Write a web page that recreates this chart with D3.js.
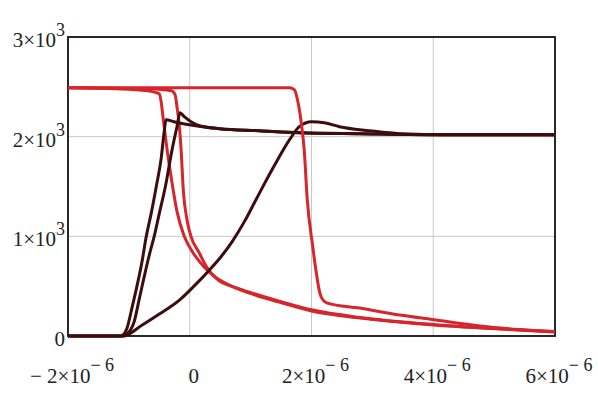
<!DOCTYPE html>
<html>
<head>
<meta charset="utf-8">
<script src="https://cdn.jsdelivr.net/npm/d3@7"></script>
<style>
  body { margin: 0; background: #fff; }
  text { font-family: "Liberation Serif", "Times New Roman", serif; fill: #222; }
</style>
</head>
<body>
<svg id="chart" width="598" height="400"></svg>
<script>
// time axis in microseconds
const redA_t = [-2, -1.2, -0.7, -0.5, -0.47, -0.44, -0.40, -0.37, -0.30, -0.21, -0.09, 0.07, 0.24, 0.40, 0.65, 0.98, 1.47, 2.0, 2.8, 4.0, 5.1, 6.0]
const redA_v = [2490, 2480, 2460, 2430, 2350, 2200, 2000, 1860, 1570, 1250, 1000, 820, 690, 600, 510, 430, 340, 250, 180, 110, 70, 40]

const redB_t = [-2, -0.67, -0.30, -0.24, -0.21, -0.17, -0.14, -0.11, -0.04, 0.02, 0.16, 0.27, 0.45, 0.73, 0.98, 1.47, 2.02, 2.8, 4.0, 5.1, 6.0]
const redB_v = [2490, 2480, 2460, 2420, 2300, 2100, 1850, 1500, 1150, 1000, 830, 700, 570, 490, 440, 350, 260, 185, 115, 72, 42]

const redC_t = [-2, 1.64, 1.72, 1.77, 1.84, 1.88, 1.93, 2.02, 2.08, 2.13, 2.16, 2.26, 2.79, 3.45, 3.99, 4.77, 5.42, 6.0]
const redC_v = [2490, 2490, 2470, 2370, 2100, 1870, 1370, 900, 630, 450, 390, 330, 280, 210, 165, 100, 65, 45]

const darkA_t = [-2, -1.14, -1.08, -1.03, -0.95, -0.86, -0.78, -0.72, -0.63, -0.55, -0.47, -0.42, -0.39, -0.26, -0.01, 0.49, 1.14, 1.80, 2.79, 4.27, 6.0]
const darkA_v = [0, 0, 20, 80, 280, 520, 760, 980, 1240, 1500, 1780, 2050, 2170, 2150, 2120, 2080, 2060, 2040, 2030, 2020, 2020]

const darkB_t = [-2, -1.08, -1.03, -0.91, -0.83, -0.75, -0.67, -0.58, -0.50, -0.40, -0.29, -0.21, -0.16, -0.09, 0.02, 0.16, 0.49, 1.14, 1.80, 2.79, 4.27, 6.0]
const darkB_v = [0, 0, 20, 150, 370, 590, 800, 1010, 1230, 1500, 1870, 2100, 2240, 2200, 2150, 2110, 2080, 2060, 2040, 2030, 2020, 2020]

const darkC_t = [-2, -1.10, -0.78, -0.50, -0.17, 0.07, 0.32, 0.52, 0.70, 0.90, 1.09, 1.39, 1.64, 1.80, 2.00, 2.21, 2.46, 2.95, 3.45, 4.27, 6.0]
const darkC_v = [0, 0, 110, 220, 360, 500, 660, 800, 950, 1150, 1370, 1710, 1970, 2100, 2150, 2140, 2100, 2060, 2030, 2020, 2020]

const xTicks = [-2, 0, 2, 4, 6]
const xTickMain = ['\u2212 2\u00d710', '0', '2\u00d710', '4\u00d710', '6\u00d710']
const xTickSup = ['\u2212 6', '', '\u2212 6', '\u2212 6', '\u2212 6']
const yTicks = [0, 1000, 2000, 3000]
const yTickMain = ['0', '1\u00d710', '2\u00d710', '3\u00d710']
const yTickSup = ['', '3', '3', '3']

const red = '#d6262b'
const dark = '#3d0c0e'

const svg = d3.select('svg#chart')
const x = d3.scaleLinear().domain([-2, 6]).range([68, 555])
const y = d3.scaleLinear().domain([0, 3000]).range([336, 37])

// grid
svg.append('g')
  .selectAll('line')
  .data([0, 2, 4])
  .join('line')
  .attr('x1', (d) => x(d)).attr('x2', (d) => x(d))
  .attr('y1', y(0)).attr('y2', y(3000))
  .attr('stroke', '#c8c8c8').attr('stroke-width', 1)
svg.append('g')
  .selectAll('line')
  .data([1000, 2000])
  .join('line')
  .attr('x1', x(-2)).attr('x2', x(6))
  .attr('y1', (d) => y(d)).attr('y2', (d) => y(d))
  .attr('stroke', '#c8c8c8').attr('stroke-width', 1)

// frame
svg.append('rect')
  .attr('x', x(-2)).attr('y', y(3000))
  .attr('width', x(6) - x(-2)).attr('height', y(0) - y(3000))
  .attr('fill', 'none').attr('stroke', '#111').attr('stroke-width', 1.8)

// tick labels
const xl = svg.append('g')
  .selectAll('text')
  .data(xTicks)
  .join('text')
  .attr('x', (d) => x(d) + 4)
  .attr('y', 383)
  .attr('text-anchor', 'middle')
  .attr('font-family', 'Liberation Serif')
  .attr('font-size', 21)
xl.append('tspan').text((d, i) => xTickMain[i])
xl.append('tspan').attr('dy', -12).attr('font-size', 18).text((d, i) => xTickSup[i])

const yl = svg.append('g')
  .selectAll('text')
  .data(yTicks)
  .join('text')
  .attr('x', 65)
  .attr('y', (d) => y(d) + 10)
  .attr('text-anchor', 'end')
  .attr('font-family', 'Liberation Serif')
  .attr('font-size', 21)
yl.append('tspan').text((d, i) => yTickMain[i])
yl.append('tspan').attr('dy', -11).attr('font-size', 18).text((d, i) => yTickSup[i])

// curves
const line = d3.line()
  .x((d) => x(d[0]))
  .y((d) => y(d[1]))
  .curve(d3.curveMonotoneX)

const series = [
  { t: redA_t, v: redA_v, c: red },
  { t: redB_t, v: redB_v, c: red },
  { t: darkC_t, v: darkC_v, c: dark },
  { t: darkA_t, v: darkA_v, c: dark },
  { t: darkB_t, v: darkB_v, c: dark },
  { t: redC_t, v: redC_v, c: red },
]

svg.append('g')
  .selectAll('path')
  .data(series)
  .join('path')
  .attr('d', (s) => line(s.t.map((t, i) => [t, s.v[i]])))
  .attr('fill', 'none')
  .attr('stroke', (s) => s.c)
  .attr('stroke-width', 3)
  .attr('stroke-linejoin', 'round')
</script>
</body>
</html>
